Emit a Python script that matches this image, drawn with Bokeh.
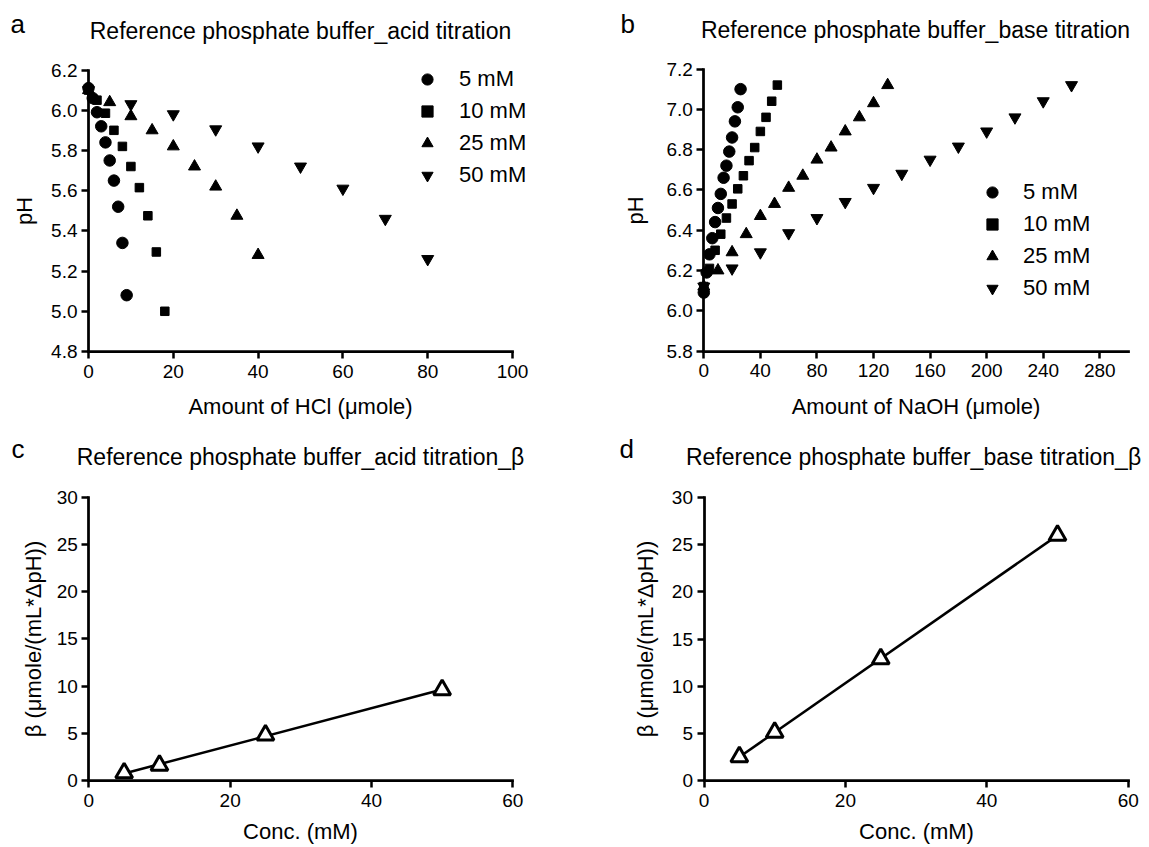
import numpy as np
from bokeh.plotting import figure
from bokeh.layouts import column, row
from bokeh.models import FixedTicker, PrintfTickFormatter, Label, Legend, LegendItem, Range1d
from bokeh.embed import file_html
from bokeh.resources import INLINE

FONT = "Liberation Sans"

# ---------------- data ----------------
series_labels = ["5 mM", "10 mM", "25 mM", "50 mM"]
series_markers = ["circle", "square", "triangle", "inverted_triangle"]

# (a) acid titration: amount of HCl (umole) vs pH
acid_x_5 = [0, 1, 2, 3, 4, 5, 6, 7, 8, 9]
acid_ph_5 = [6.11, 6.06, 5.99, 5.92, 5.84, 5.75, 5.65, 5.52, 5.34, 5.08]
acid_x_10 = [0, 2, 4, 6, 8, 10, 12, 14, 16, 18]
acid_ph_10 = [6.10, 6.05, 5.985, 5.90, 5.82, 5.72, 5.615, 5.475, 5.295, 5.00]
acid_x_25 = [0, 5, 10, 15, 20, 25, 30, 35, 40]
acid_ph_25 = [6.10, 6.04, 5.97, 5.90, 5.82, 5.72, 5.62, 5.475, 5.28]
acid_x_50 = [0, 10, 20, 30, 40, 50, 60, 70, 80]
acid_ph_50 = [6.10, 6.03, 5.98, 5.905, 5.82, 5.72, 5.61, 5.46, 5.26]

# (b) base titration: amount of NaOH (umole) vs pH
base_x_5 = [0, 2, 4, 6, 8, 10, 12, 14, 16, 18, 20, 22, 24, 26]
base_ph_5 = [6.09, 6.19, 6.28, 6.36, 6.44, 6.51, 6.58, 6.66, 6.72, 6.79, 6.86, 6.94, 7.01, 7.10]
base_x_10 = [0, 4, 8, 12, 16, 20, 24, 28, 32, 36, 40, 44, 48, 52]
base_ph_10 = [6.12, 6.21, 6.30, 6.38, 6.46, 6.53, 6.605, 6.67, 6.745, 6.81, 6.89, 6.96, 7.04, 7.12]
base_x_25 = [0, 10, 20, 30, 40, 50, 60, 70, 80, 90, 100, 110, 120, 130]
base_ph_25 = [6.12, 6.20, 6.29, 6.38, 6.47, 6.53, 6.61, 6.67, 6.75, 6.81, 6.89, 6.96, 7.03, 7.12]
base_x_50 = [0, 20, 40, 60, 80, 100, 120, 140, 160, 180, 200, 220, 240, 260]
base_ph_50 = [6.12, 6.21, 6.29, 6.385, 6.46, 6.54, 6.61, 6.68, 6.75, 6.815, 6.89, 6.96, 7.04, 7.12]

# (c), (d) buffer capacity beta vs concentration
conc_mM = [5, 10, 25, 50]
beta_acid = [0.8, 1.6, 4.8, 9.6]
beta_base = [2.5, 5.1, 12.9, 26.0]

# tick values
a_xticks = [0, 20, 40, 60, 80, 100]
a_yticks = [4.8, 5.0, 5.2, 5.4, 5.6, 5.8, 6.0, 6.2]
b_xticks = [0, 40, 80, 120, 160, 200, 240, 280]
b_yticks = [5.8, 6.0, 6.2, 6.4, 6.6, 6.8, 7.0, 7.2]
cd_xticks = [0, 20, 40, 60]
cd_yticks = [0, 5, 10, 15, 20, 25, 30]


class Panel:
    """A figure whose frame fills the whole canvas; axes are pinned at the data origin."""

    def __init__(self, left, top, width, height, xlim, xpix, ylim, ypix):
        self.left, self.top, self.w, self.h = left, top, width, height
        x0, x1 = xlim
        px0, px1 = xpix[0] - left, xpix[1] - left
        sx = (px1 - px0) / (x1 - x0)
        y0, y1 = ylim
        py0, py1 = ypix[0] - top, ypix[1] - top  # canvas px (from top) of y0 and y1
        sy = (py0 - py1) / (y1 - y0)
        xr = Range1d(x0 - px0 / sx, x0 + (width - px0) / sx)
        yr = Range1d(y0 - (height - py0) / sy, y1 + py1 / sy)
        p = figure(width=width, height=height, x_range=xr, y_range=yr, title=None,
                   min_border=0, min_border_left=0, min_border_right=0,
                   min_border_top=0, min_border_bottom=0,
                   toolbar_location=None, output_backend="svg")
        p.outline_line_color = None
        p.grid.visible = False
        p.background_fill_color = "white"
        p.border_fill_color = "white"
        p.xaxis.fixed_location = y0
        p.xaxis.bounds = (x0, x1)
        p.yaxis.fixed_location = x0
        p.yaxis.bounds = (y0, y1)
        self.p = p

    def sx(self, page_x):
        return page_x - self.left

    def sy(self, page_y):
        return self.h - (page_y - self.top)

    def text(self, page_x, page_y, text, size, align="left", baseline="middle"):
        self.p.add_layout(Label(x=self.sx(page_x), y=self.sy(page_y), x_units="screen",
                                y_units="screen", text=text, text_font=FONT,
                                text_font_size=size, text_color="black",
                                text_align=align, text_baseline=baseline))

    def style(self, xticks, yticks, yfmt, xlabel, ylabel, ylab_standoff, xlab_standoff):
        p = self.p
        p.xaxis.ticker = FixedTicker(ticks=xticks)
        p.yaxis.ticker = FixedTicker(ticks=yticks)
        p.yaxis.formatter = PrintfTickFormatter(format=yfmt)
        p.xaxis.axis_label = xlabel
        p.yaxis.axis_label = ylabel
        p.xaxis.axis_label_standoff = xlab_standoff
        p.yaxis.axis_label_standoff = ylab_standoff
        p.xaxis.major_label_standoff = 6
        p.yaxis.major_label_standoff = 4
        for ax in (p.xaxis[0], p.yaxis[0]):
            ax.axis_line_width = 2.75
            ax.axis_line_color = "black"
            ax.axis_line_cap = "square"
            ax.major_tick_line_width = 2.5
            ax.major_tick_line_color = "black"
            ax.major_tick_in = 0
            ax.major_tick_out = 7
            ax.minor_tick_line_color = None
            ax.major_label_text_font = FONT
            ax.major_label_text_font_size = "19px"
            ax.major_label_text_color = "black"
            ax.axis_label_text_font = FONT
            ax.axis_label_text_font_size = "22px"
            ax.axis_label_text_font_style = "normal"
            ax.axis_label_text_color = "black"


def titration(panel, xs, ys, legend_left, legend_bottom, standoff):
    p = panel.p
    items = []
    sizes = [11.5, 8.5, 12, 12]
    for x, y, lab, mk, sz in zip(xs, ys, series_labels, series_markers, sizes):
        r = p.scatter(x, y, marker=mk, size=sz, fill_color="black", line_color="black", line_width=1)
        items.append(LegendItem(label=lab, renderers=[r]))
    leg = Legend(items=items, location=(panel.sx(legend_left), panel.sy(legend_bottom)),
                 orientation="vertical", glyph_width=28, glyph_height=28,
                 label_standoff=standoff, spacing=4, padding=0, margin=0,
                 border_line_color=None, background_fill_alpha=0, label_text_font=FONT,
                 label_text_font_size="22px", label_text_color="black", label_height=28)
    p.add_layout(leg)


def beta(panel, values):
    p = panel.p
    k, b0 = np.polyfit(conc_mM, values, 1)
    xfit = [min(conc_mM), max(conc_mM)]
    p.line(xfit, [k * v + b0 for v in xfit], line_color="black", line_width=2.5)
    p.scatter(conc_mM, values, marker="triangle", size=17, fill_color="white",
              line_color="black", line_width=3)


# (a)
A = Panel(0, 0, 600, 420, (0, 100), (88, 512), (4.8, 6.2), (351, 69.5))
titration(A, [acid_x_5, acid_x_10, acid_x_25, acid_x_50],
          [acid_ph_5, acid_ph_10, acid_ph_25, acid_ph_50], 413, 189, 18)
A.style(a_xticks, a_yticks, "%.1f", "Amount of HCl (\u03bcmole)", "pH", 11, 13)
A.text(300, 30, "Reference phosphate buffer_acid titration", "23px", "center")
A.text(10, 23, "a", "26px")

# (b)
B = Panel(600, 0, 549, 420, (0, 300), (703.3, 1127.6), (5.8, 7.2), (350.5, 68.5))
titration(B, [base_x_5, base_x_10, base_x_25, base_x_50],
          [base_ph_5, base_ph_10, base_ph_25, base_ph_50], 978, 302, 17)
B.style(b_xticks, b_yticks, "%.1f", "Amount of NaOH (\u03bcmole)", "pH", 15, 13)
B.text(915, 29, "Reference phosphate buffer_base titration", "23px", "center")
B.text(620, 23, "b", "26px")

# (c)
C = Panel(0, 420, 600, 427, (0, 60), (88.3, 512.3), (0, 30), (780, 496.7))
beta(C, beta_acid)
C.style(cd_xticks, cd_yticks, "%d", "Conc. (mM)", "\u03b2 (\u03bcmole/(mL*\u0394pH))", 7, 9)
C.text(300, 456, "Reference phosphate buffer_acid titration_\u03b2", "23px", "center")
C.text(11, 448, "c", "26px")

# (d)
D = Panel(600, 420, 549, 427, (0, 60), (703.5, 1127.7), (0, 30), (780, 497))
beta(D, beta_base)
D.style(cd_xticks, cd_yticks, "%d", "Conc. (mM)", "\u03b2 (\u03bcmole/(mL*\u0394pH))", 11, 9)
D.text(913, 456, "Reference phosphate buffer_base titration_\u03b2", "23px", "center")
D.text(619, 448, "d", "26px")

layout = column(row(A.p, B.p), row(C.p, D.p))
open("out.html", "w").write(file_html(layout, INLINE))
